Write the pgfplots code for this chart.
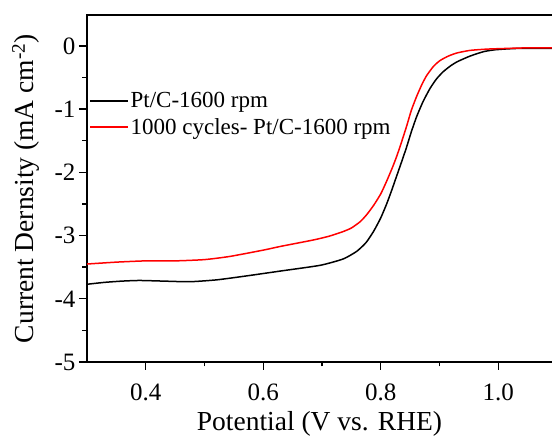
\documentclass[border=0pt]{standalone}
\usepackage{pgfplots}
\pgfplotsset{compat=1.18}
\usepackage{fontspec}
\setmainfont{Liberation Serif}
\begin{document}
\begin{tikzpicture}
\useasboundingbox (-87pt,-74pt) rectangle (465pt,362pt);
\begin{axis}[
  scale only axis,
  width=465pt, height=347pt,
  xmin=0.3, xmax=1.0915,
  ymin=-5, ymax=0.49,
  axis x line=box,
  axis y line*=left,
  xtick pos=bottom,
  xtick={0.4,0.6,0.8,1.0},
  xticklabels={0.4,0.6,0.8,1.0},
  ytick={-5,-4,-3,-2,-1,0},
  yticklabels={-5,-4,-3,-2,-1,0},
  minor x tick num=1,
  minor y tick num=1,
  tick align=outside,
  major tick length=8pt,
  minor tick length=4.5pt,
  axis line style={line width=1.9pt, line cap=rect},
  every tick/.style={line width=1.4pt, black},
  tick label style={font=\fontsize{25}{29}\selectfont},
  xticklabel style={yshift=-10pt},
  label style={font=\fontsize{27.5}{32}\selectfont},
  xlabel={Potential (V vs. RHE)},
  ylabel={Current Dernsity (mA cm\textsuperscript{-2})},
  xlabel style={inner sep=0pt, yshift=-7pt},
  ylabel style={yshift=8pt},
  legend style={at={(0.005,0.782)}, anchor=north west, draw=none, fill=none,
    font=\fontsize{23}{27}\selectfont, inner sep=0pt,
    nodes={inner sep=1.5pt}, row sep=6pt},
  legend cell align=left,
  legend image code/.code={\draw[line width=1.6pt, #1] (0pt,0pt) -- (38pt,0pt);},
]
\addplot[black, line width=1.5pt, smooth, tension=0.35, forget plot] coordinates {
(0.300,-3.77) (0.330,-3.74) (0.360,-3.72) (0.389,-3.71) (0.430,-3.72) (0.475,-3.73)
(0.521,-3.70) (0.570,-3.64) (0.630,-3.56) (0.697,-3.47) (0.736,-3.37) (0.759,-3.25)
(0.775,-3.11) (0.788,-2.93) (0.800,-2.72) (0.810,-2.50) (0.818,-2.30) (0.827,-2.06)
(0.836,-1.82) (0.844,-1.60) (0.852,-1.36) (0.861,-1.12) (0.872,-0.88) (0.884,-0.67)
(0.895,-0.52) (0.906,-0.41) (0.918,-0.32) (0.930,-0.25) (0.952,-0.16) (0.975,-0.09)
(0.995,-0.06) (1.030,-0.04) (1.0915,-0.04)
};
\addplot[red, line width=1.5pt, smooth, tension=0.35, forget plot] coordinates {
(0.300,-3.45) (0.350,-3.42) (0.400,-3.40) (0.450,-3.40) (0.500,-3.38) (0.543,-3.33)
(0.600,-3.23) (0.630,-3.17) (0.685,-3.07) (0.712,-3.01) (0.735,-2.94) (0.750,-2.88)
(0.765,-2.78) (0.776,-2.67) (0.788,-2.52) (0.800,-2.34) (0.810,-2.14) (0.820,-1.92)
(0.827,-1.75) (0.834,-1.56) (0.844,-1.27) (0.852,-1.02) (0.861,-0.80) (0.870,-0.61)
(0.878,-0.47) (0.890,-0.32) (0.901,-0.23) (0.915,-0.16) (0.930,-0.11) (0.952,-0.07)
(0.980,-0.05) (1.010,-0.04) (1.050,-0.03) (1.0915,-0.03)
};
\addlegendimage{black, line width=1.6pt}
\addlegendentry{Pt/C-1600 rpm}
\addlegendimage{red, line width=1.6pt}
\addlegendentry{1000 cycles- Pt/C-1600 rpm}
\end{axis}
\end{tikzpicture}
\end{document}
